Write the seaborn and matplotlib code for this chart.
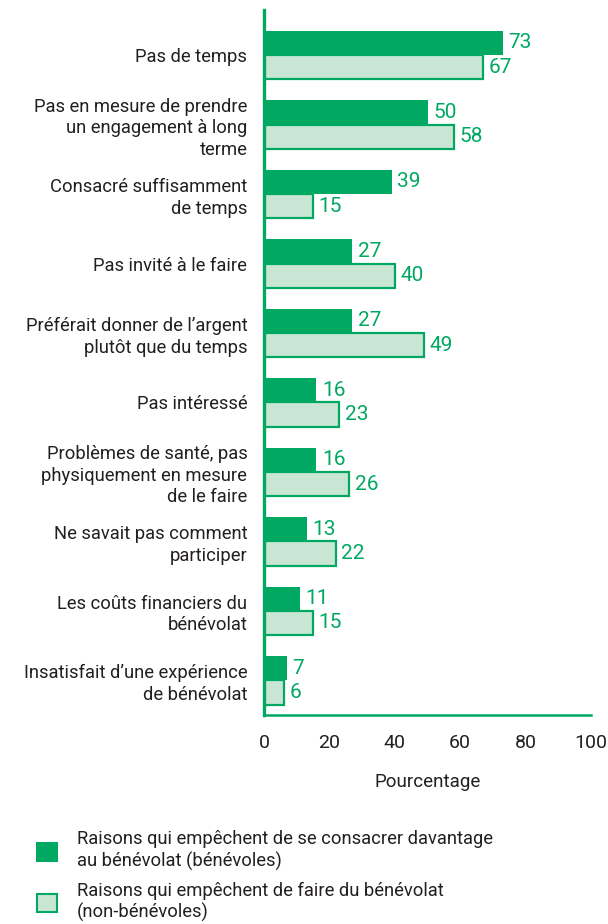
import matplotlib
matplotlib.use("Agg")
import matplotlib.pyplot as plt
import seaborn as sns
import pandas as pd
from matplotlib.patches import Patch

categories = [
    "Pas de temps",
    "Pas en mesure de prendre\nun engagement à long\nterme",
    "Consacré suffisamment\nde temps",
    "Pas invité à le faire",
    "Préférait donner de l’argent\nplutôt que du temps",
    "Pas intéressé",
    "Problèmes de santé, pas\nphysiquement en mesure\nde le faire",
    "Ne savait pas comment\nparticiper",
    "Les coûts financiers du\nbénévolat",
    "Insatisfait d’une expérience\nde bénévolat",
]
volunteers = [73, 50, 39, 27, 27, 16, 16, 13, 11, 7]
non_volunteers = [67, 58, 15, 40, 49, 23, 26, 22, 15, 6]
series_names = [
    "Raisons qui empêchent de se consacrer davantage\nau bénévolat (bénévoles)",
    "Raisons qui empêchent de faire du bénévolat\n(non-bénévoles)",
]
x_ticks = [0, 20, 40, 60, 80, 100]
x_label = "Pourcentage"

GREEN = "#00a862"
LIGHT = "#c9e6d5"
TEXT = "#231f20"

sns.set_theme(style="white")
plt.rcParams["font.family"] = ["Roboto", "DejaVu Sans"]

df = pd.DataFrame({
    "cat": categories * 2,
    "val": volunteers + non_volunteers,
    "series": [series_names[0]] * len(categories) + [series_names[1]] * len(categories),
})

fig = plt.figure(figsize=(6.08, 9.24), dpi=100)
ax = fig.add_axes([264 / 608, 1 - 715 / 924, (591 - 264) / 608, (715 - 10) / 924])

sns.barplot(data=df, y="cat", x="val", hue="series", orient="h",
            palette=[GREEN, LIGHT], width=0.7, ax=ax, legend=False,
            saturation=1)

for i, cont in enumerate(ax.containers):
    for bar in cont:
        if i == 1:
            bar.set_edgecolor(GREEN)
            bar.set_linewidth(1.6)
        else:
            bar.set_edgecolor("none")
    ax.bar_label(cont, fmt="%d", padding=4, color=GREEN, fontsize=15)

ax.set_xlim(0, 100)
ax.set_ylim(9.5, -0.65)
ax.set_xticks(x_ticks)
ax.set_xticklabels([str(t) for t in x_ticks], fontsize=14, color=TEXT)
ax.set_yticklabels(categories, fontsize=13.2, color=TEXT, linespacing=1.25)
ax.set_ylabel("")
ax.set_xlabel(x_label, fontsize=13.5, color=TEXT, labelpad=15)

for s in ["top", "right"]:
    ax.spines[s].set_visible(False)
ax.spines["left"].set_color(GREEN)
ax.spines["left"].set_linewidth(2.4)
ax.spines["bottom"].set_color(GREEN)
ax.spines["bottom"].set_linewidth(1.8)

ax.tick_params(axis="x", direction="in", length=7, width=1.6, color=GREEN, pad=14)
ax.tick_params(axis="y", length=0, pad=12)

handles = [Patch(facecolor=GREEN, edgecolor=GREEN, linewidth=1.5),
           Patch(facecolor=LIGHT, edgecolor=GREEN, linewidth=1.5)]
leg = fig.legend(handles, series_names, loc="upper left",
                 bbox_to_anchor=(20 / 608, 1 - 814 / 924), frameon=False,
                 fontsize=13.2, handlelength=1.1, handleheight=1.1,
                 labelspacing=0.55, handletextpad=1.1)
for t in leg.get_texts():
    t.set_color(TEXT)
    t.set_linespacing(1.25)

fig.savefig("out.png", dpi=100)
